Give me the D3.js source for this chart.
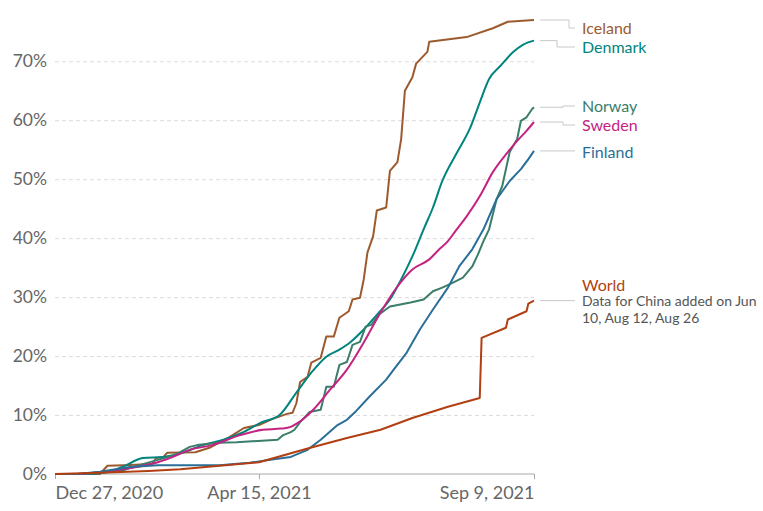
<!DOCTYPE html>
<html>
<head>
<meta charset="utf-8">
<script src="https://cdn.jsdelivr.net/npm/d3@7"></script>
<style>
  body { margin: 0; background: #fff; font-family: Lato, "Open Sans", sans-serif; }
  svg text { font-family: Lato, sans-serif; }
</style>
</head>
<body>
<div id="chart"></div>
<script>
// share of people fully vaccinated
var iceland = [["2020-12-27",0],["2021-01-20",0],["2021-01-24",1.4],["2021-02-02",1.5],["2021-02-17",1.7],["2021-02-19",2.7],["2021-02-23",2.9],["2021-02-25",3.6],["2021-03-12",3.7],["2021-03-20",4.5],["2021-03-30",6.2],["2021-04-07",7.8],["2021-04-15",8.3],["2021-04-22",9.3],["2021-04-30",10.2],["2021-05-03",10.4],["2021-05-05",12],["2021-05-07",15.6],["2021-05-11",16.5],["2021-05-13",18.9],["2021-05-18",19.7],["2021-05-21",23.3],["2021-05-25",23.3],["2021-05-28",26.5],["2021-06-02",27.6],["2021-06-04",29.6],["2021-06-08",29.9],["2021-06-10",33],["2021-06-12",37.6],["2021-06-15",40.3],["2021-06-17",44.7],["2021-06-22",45.2],["2021-06-24",51.4],["2021-06-28",52.9],["2021-06-30",56.8],["2021-07-02",65],["2021-07-06",67.3],["2021-07-08",69.6],["2021-07-14",71.6],["2021-07-15",73.3],["2021-08-04",74.1],["2021-08-18",75.6],["2021-08-26",76.7],["2021-09-09",77]];

var denmark = [["2020-12-27",0],["2021-01-12",0],["2021-01-22",0.2],["2021-02-01",1.2],["2021-02-12",2.7],["2021-02-23",2.9],["2021-03-05",3.6],["2021-03-16",4.9],["2021-03-27",5.8],["2021-04-06",7],["2021-04-16",8.7],["2021-04-26",10],["2021-05-05",13.8],["2021-05-13",17.2],["2021-05-21",19.9],["2021-05-28",21.1],["2021-06-03",22.4],["2021-06-10",24.5],["2021-06-17",27],["2021-06-24",29.6],["2021-06-30",33],["2021-07-06",36.9],["2021-07-12",41.5],["2021-07-17",45.2],["2021-07-22",49.7],["2021-07-30",54.6],["2021-08-06",58.8],["2021-08-11",63],["2021-08-16",67],["2021-08-22",69.2],["2021-08-29",71.6],["2021-09-03",72.8],["2021-09-09",73.5]];

var norway = [["2020-12-27",0],["2021-01-10",0],["2021-01-20",0.3],["2021-02-01",0.6],["2021-02-10",1.5],["2021-02-20",2.4],["2021-03-01",3.2],["2021-03-09",4.6],["2021-03-13",4.9],["2021-03-24",5.3],["2021-04-03",5.4],["2021-04-25",5.8],["2021-04-28",6.6],["2021-05-02",7.1],["2021-05-04",7.5],["2021-05-07",8.8],["2021-05-12",10.5],["2021-05-18",10.9],["2021-05-21",14.8],["2021-05-25",14.8],["2021-05-28",18.5],["2021-06-01",19],["2021-06-04",21.9],["2021-06-08",22.4],["2021-06-11",25],["2021-06-14",25.3],["2021-06-18",27],["2021-06-24",28.4],["2021-07-05",29.1],["2021-07-12",29.6],["2021-07-17",31],["2021-07-22",31.6],["2021-07-28",32.5],["2021-08-02",33.3],["2021-08-07",35.2],["2021-08-10",37.2],["2021-08-13",39.5],["2021-08-16",41.5],["2021-08-20",46.6],["2021-08-23",48.8],["2021-08-27",54.6],["2021-08-31",56.8],["2021-09-02",59.9],["2021-09-05",60.5],["2021-09-08",61.9],["2021-09-09",62.2]];

var sweden = [["2020-12-27",0],["2021-01-05",0],["2021-01-20",0.3],["2021-02-05",1.0],["2021-02-20",2.0],["2021-02-28",2.9],["2021-03-09",4.1],["2021-03-21",4.9],["2021-04-05",6.6],["2021-04-17",7.5],["2021-04-27",7.7],["2021-05-02",8.0],["2021-05-06",8.7],["2021-05-14",10.9],["2021-05-23",14.3],["2021-06-01",17.7],["2021-06-10",22.3],["2021-06-19",27.4],["2021-06-28",31.8],["2021-07-06",34.7],["2021-07-15",36.4],["2021-07-20",38.0],["2021-07-25",39.5],["2021-07-29",41.2],["2021-08-04",43.7],["2021-08-11",47.1],["2021-08-18",51.2],["2021-08-26",54.6],["2021-08-31",56.5],["2021-09-05",58.2],["2021-09-09",59.7]];

var finland = [["2020-12-27",0],["2021-01-08",0],["2021-01-20",0.4],["2021-02-05",1.2],["2021-02-20",1.5],["2021-03-25",1.5],["2021-04-10",1.9],["2021-04-21",2.4],["2021-05-02",2.9],["2021-05-11",4.1],["2021-05-18",5.8],["2021-05-27",8.3],["2021-06-01",9.2],["2021-06-06",10.7],["2021-06-13",13.1],["2021-06-22",16],["2021-06-26",17.7],["2021-07-03",20.6],["2021-07-10",24.5],["2021-07-17",27.9],["2021-07-25",31.6],["2021-07-31",35.2],["2021-08-07",38.1],["2021-08-13",41.5],["2021-08-20",46.6],["2021-08-27",49.7],["2021-09-02",51.7],["2021-09-06",53.4],["2021-09-09",54.8]];

var world = [["2020-12-27",0],["2021-01-20",0.2],["2021-02-15",0.5],["2021-03-04",0.8],["2021-03-25",1.4],["2021-04-15",2.0],["2021-05-12",4.4],["2021-06-01",6.1],["2021-06-19",7.5],["2021-07-06",9.5],["2021-07-25",11.4],["2021-08-11",12.9],["2021-08-12",23.1],["2021-08-25",24.8],["2021-08-26",26.2],["2021-09-05",27.6],["2021-09-06",28.9],["2021-09-09",29.4]];

var names = ["Iceland", "Denmark", "Norway", "Sweden", "Finland", "World"];
var colors = ["#9c5a2e", "#00847e", "#3b7d6b", "#c42383", "#2a6f98", "#b13f11"];
var seriesData = [iceland, denmark, norway, sweden, finland, world];

var yTicks = [0, 10, 20, 30, 40, 50, 60, 70];
var xTicks = ["2020-12-27", "2021-04-15", "2021-09-09"];
var worldNote = ["Data for China added on Jun", "10, Aug 12, Aug 26"];

// layout
var svgWidth = 763, svgHeight = 511;
var margin = {top: 20, right: 229, bottom: 37, left: 55};
var width = svgWidth - margin.left - margin.right;
var height = svgHeight - margin.top - margin.bottom;
// where each label sits (px from top of plot area)
var labelY = [8, 27, 86, 105, 132, 265];
// smooth curves only for the series that look smooth in the picture
var smooth = [false, true, false, true, false, false];

var parse = d3.timeParse("%Y-%m-%d");
var fmt = d3.timeFormat("%b %-d, %Y");

var svg = d3.select("#chart").append("svg")
  .attr("width", svgWidth)
  .attr("height", svgHeight);

var chartGroup = svg.append("g")
  .attr("transform", `translate(${margin.left}, ${margin.top})`);

var x = d3.scaleTime()
  .domain([parse(xTicks[0]), parse(xTicks[2])])
  .range([0, width]);

var y = d3.scaleLinear()
  .domain([0, 77])
  .range([height, 0]);

// gridlines + y labels
var leftAxis = d3.axisLeft(y)
  .tickValues(yTicks)
  .tickSize(-width)
  .tickFormat(d => d + "%");

var yAxisG = chartGroup.append("g").call(leftAxis);
yAxisG.select(".domain").remove();
yAxisG.selectAll(".tick line")
  .attr("stroke", "#dcdcdc")
  .attr("stroke-dasharray", "4,3")
  .filter(d => d === 0).remove();
yAxisG.selectAll(".tick text")
  .attr("x", -8)
  .attr("fill", "#666")
  .attr("font-size", "17.5px");

// x axis
var bottomAxis = d3.axisBottom(x)
  .tickValues(xTicks.map(parse))
  .tickSize(5)
  .tickFormat(fmt);

var xAxisG = chartGroup.append("g")
  .attr("transform", `translate(0, ${height})`)
  .call(bottomAxis);
xAxisG.select(".domain").attr("stroke", "#a8a8a8").attr("d", `M0,0H${width}`);
xAxisG.selectAll(".tick line").attr("stroke", "#a8a8a8");
xAxisG.selectAll(".tick text")
  .attr("fill", "#666")
  .attr("font-size", "18px")
  .attr("dy", "0.95em")
  .attr("text-anchor", (d, i) => i === 0 ? "start" : (i === 2 ? "end" : "middle"));

// lines
seriesData.forEach(function(data, i) {
  var line = d3.line()
    .curve(smooth[i] ? d3.curveMonotoneX : d3.curveLinear)
    .x(d => x(parse(d[0])))
    .y(d => y(d[1]));

  chartGroup.append("path")
    .datum(data)
    .attr("fill", "none")
    .attr("stroke", colors[i])
    .attr("stroke-width", 2)
    .attr("stroke-linejoin", "round")
    .attr("d", line);
});

// labels with connectors
var lx0 = width + 6, lx1 = width + 41;
var elbow = [29, 17, 23, 23, 0, 0];

seriesData.forEach(function(data, i) {
  var endY = y(data[data.length - 1][1]);
  var ly = labelY[i];
  var ex = lx0 + elbow[i];
  var path = elbow[i] ? `M${lx0},${endY}H${ex}V${ly}H${lx1}` : `M${lx0},${endY}H${lx1}`;
  chartGroup.append("path")
    .attr("d", path)
    .attr("fill", "none")
    .attr("stroke", "#c8c8c8")
    .attr("stroke-width", 1);

  chartGroup.append("text")
    .attr("x", lx1 + 7)
    .attr("y", ly)
    .attr("dy", "0.35em")
    .attr("fill", colors[i])
    .attr("font-size", "16px")
    .text(names[i]);
});

chartGroup.selectAll(".note")
  .data(worldNote)
  .enter()
  .append("text")
  .attr("class", "note")
  .attr("x", lx1 + 7)
  .attr("y", (d, i) => labelY[5] + 16 + i * 17)
  .attr("dy", "0.35em")
  .attr("fill", "#555")
  .attr("font-size", "14px")
  .text(d => d);
</script>
</body>
</html>
